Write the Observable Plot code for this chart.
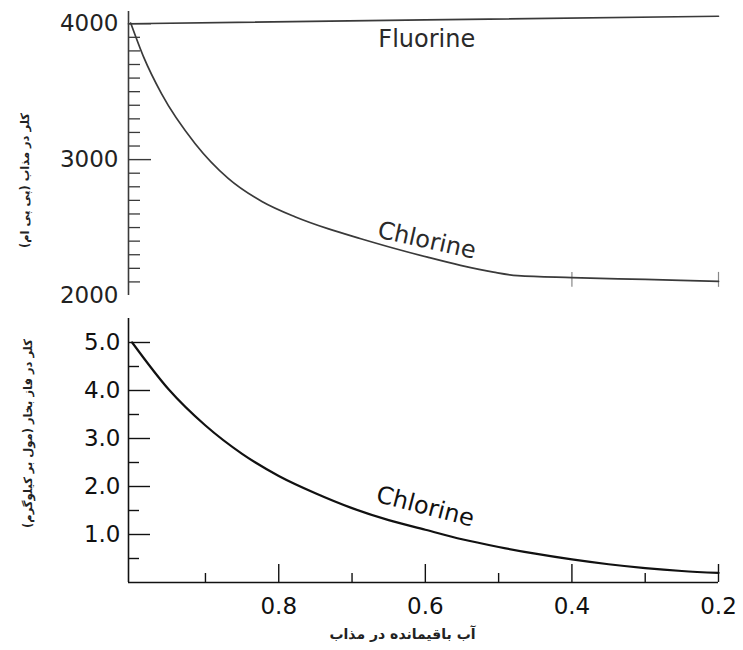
<!DOCTYPE html>
<html><head><meta charset="utf-8">
<script src="https://cdn.jsdelivr.net/npm/d3@7"></script>
<script src="https://cdn.jsdelivr.net/npm/@observablehq/plot@0.6"></script>
<style>
body{margin:0;background:#fff;}
#chart{width:743px;height:650px;}
#chart svg{display:block;}
</style></head><body><div id="chart"></div>
<script>
// ---- data ----
const xMelt = [1.002, 0.984, 0.96, 0.914, 0.869, 0.823, 0.778, 0.732, 0.688, 0.643, 0.597, 0.552, 0.507, 0.474, 0.4, 0.3, 0.2];
const chlorineMelt = [4005, 3750, 3485, 3117, 2862, 2692, 2580, 2490, 2418, 2348, 2282, 2222, 2172, 2146, 2132, 2118, 2104];
const xFluorine = [1.005, 0.6, 0.2];
const fluorineMelt = [4000, 4028, 4055];
const xVapor = [1.0, 0.95, 0.9, 0.85, 0.8, 0.75, 0.7, 0.65, 0.6, 0.55, 0.5, 0.45, 0.4, 0.35, 0.3, 0.25, 0.2];
const chlorineVapor = [5.0, 4.02, 3.27, 2.68, 2.22, 1.86, 1.55, 1.30, 1.10, 0.90, 0.74, 0.60, 0.48, 0.38, 0.30, 0.24, 0.20];

const xTickLabels = [0.8, 0.6, 0.4, 0.2];
const xTicksMinor = [0.9, 0.7, 0.5, 0.3];
const topTickLabels = [2000, 3000, 4000];
const topTicksMajor = [3000, 4000];
const topTicksMinor = [2100, 2200, 2300, 2400, 2500, 2600, 2700, 2800, 2900, 3100, 3200, 3300, 3400, 3500, 3600, 3700, 3800, 3900];
const topBottomTicks = [0.4, 0.2];
const botTickLabels = [1.0, 2.0, 3.0, 4.0, 5.0];
const botTicksMinor = [0.5, 1.5, 2.5, 3.5, 4.5];

const labelTopY = "کلر در مذاب (پی پی ام)";
const labelBotY = "کلر در فاز بخار (مول بر کیلوگرم)";
const labelX = "آب باقیمانده در مذاب";

// ---- tables ----
const meltCl = xMelt.map((x, i) => ({x, v: chlorineMelt[i]}));
const meltF = xFluorine.map((x, i) => ({x, v: fluorineMelt[i]}));
const vaporCl = xVapor.map((x, i) => ({x, v: chlorineVapor[i]}));

const W = 743, ML = 128, MR = 25;
const FW = W - ML - MR;
const xDomain = [1.005, 0.2];
const font = "DejaVu Sans, Liberation Sans, sans-serif";

// ---- top panel ----
const topH = 300, topMT = 11, topMB = 5;
const topPanel = Plot.plot({
  width: W, height: topH,
  marginLeft: ML, marginRight: MR, marginTop: topMT, marginBottom: topMB,
  x: {domain: xDomain, axis: null},
  y: {domain: [2000, 4090], axis: null},
  style: {fontFamily: font, background: "white", overflow: "visible"},
  marks: [
    Plot.ruleX([xDomain[0]], {y1: 2000, y2: 4090, stroke: "#3a3a3a", strokeWidth: 1.6}),
    Plot.tickY(topTicksMinor, {y: d => d, insetRight: FW - 12, stroke: "#3a3a3a", strokeWidth: 1.3}),
    Plot.tickY(topTicksMajor, {y: d => d, insetRight: FW - 23, stroke: "#3a3a3a", strokeWidth: 1.4}),
    Plot.ruleX(topBottomTicks, {x: d => d, y1: 2060, y2: 2170, stroke: "#888", strokeWidth: 1.2}),
    Plot.axisY({ticks: topTickLabels, tickSize: 0, tickPadding: 10, tickFormat: d => String(d), label: null, fontSize: 23, color: "#222"}),
    Plot.line(meltF, {x: "x", y: "v", stroke: "#3a3a3a", strokeWidth: 1.7}),
    Plot.line(meltCl, {x: "x", y: "v", stroke: "#3a3a3a", strokeWidth: 1.7, curve: "monotone-x"}),
    Plot.text(["Fluorine"], {x: 0.598, y: 3884, text: d => d, fontSize: 24, fill: "#2a2a2a"}),
    Plot.text(["Chlorine"], {x: 0.598, y: 2405, text: d => d, fontSize: 24, fill: "#2a2a2a", rotate: 12.5}),
    Plot.text([labelTopY], {frameAnchor: "left", textAnchor: "middle", lineAnchor: "middle", text: d => d, rotate: -90, dx: -103, dy: 27, fontSize: 11.5, fontWeight: "bold", fill: "#222"})
  ]
});

// ---- bottom panel ----
const botH = 350, botMT = 18, botMB = 68;
const botFH = botH - botMT - botMB;
const bottomPanel = Plot.plot({
  width: W, height: botH,
  marginLeft: ML, marginRight: MR, marginTop: botMT, marginBottom: botMB,
  x: {domain: xDomain, axis: null},
  y: {domain: [0, 5.5], axis: null},
  style: {fontFamily: font, background: "white", overflow: "visible"},
  marks: [
    Plot.ruleX([xDomain[0]], {y1: 0, y2: 5.5, stroke: "#111", strokeWidth: 1.6}),
    Plot.ruleY([0], {stroke: "#111", strokeWidth: 1.6}),
    Plot.tickY(botTicksMinor, {y: d => d, insetRight: FW - 11, stroke: "#111", strokeWidth: 1.4}),
    Plot.tickY(botTickLabels, {y: d => d, insetRight: FW - 22, stroke: "#111", strokeWidth: 1.4}),
    Plot.tickX(xTicksMinor, {x: d => d, insetTop: botFH - 9, stroke: "#111", strokeWidth: 1.4}),
    Plot.tickX(xTickLabels, {x: d => d, insetTop: botFH - 18, stroke: "#111", strokeWidth: 1.4}),
    Plot.axisY({ticks: botTickLabels, tickSize: 0, tickPadding: 8, tickFormat: d3.format(".1f"), label: null, fontSize: 23, color: "#111"}),
    Plot.axisX({ticks: xTickLabels, tickSize: 0, tickPadding: 15, tickFormat: d3.format(".1f"), label: null, fontSize: 23, color: "#111"}),
    Plot.line(vaporCl, {x: "x", y: "v", stroke: "#111", strokeWidth: 2.2, curve: "monotone-x"}),
    Plot.text(["Chlorine"], {x: 0.600, y: 1.58, text: d => d, fontSize: 24, fill: "#111", rotate: 14.5}),
    Plot.text([labelBotY], {frameAnchor: "left", textAnchor: "middle", lineAnchor: "middle", text: d => d, rotate: -90, dx: -100, dy: -17, fontSize: 11.5, fontWeight: "bold", fill: "#222"}),
    Plot.text([labelX], {frameAnchor: "bottom", textAnchor: "middle", lineAnchor: "middle", text: d => d, dx: -21, dy: 52, fontSize: 14, fontWeight: "bold", fill: "#222"})
  ]
});

const chart = document.getElementById("chart");
chart.appendChild(topPanel);
chart.appendChild(bottomPanel);
</script>
</body></html>
